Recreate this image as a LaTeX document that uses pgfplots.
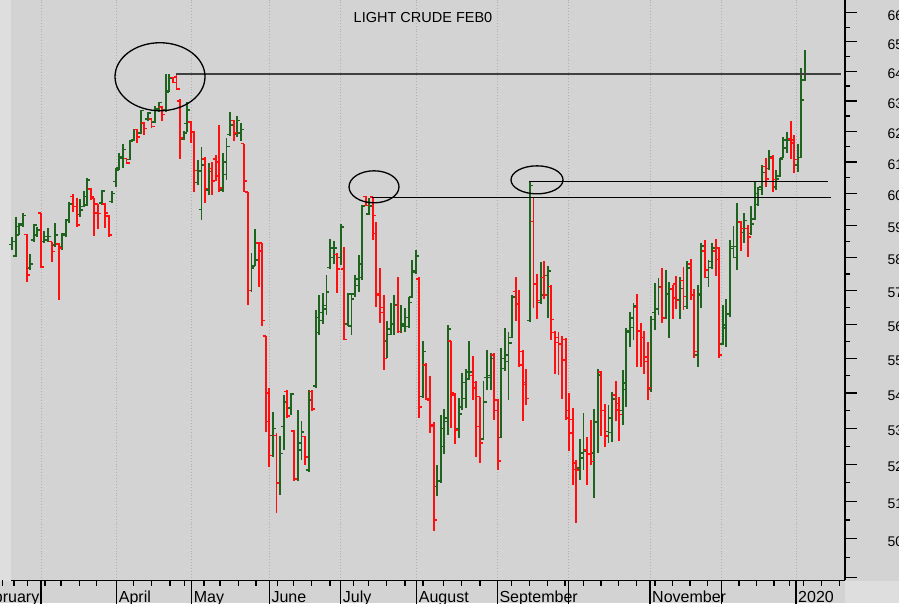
\documentclass[border=0pt]{standalone}
\usepackage{pgfplots}
\pgfplotsset{compat=1.18}
\usepackage{pgfplotstable}
\usepackage{fontspec}
\setmainfont{Liberation Sans}
\definecolor{bg}{HTML}{D3D3D3}
\definecolor{bglight}{HTML}{DEDEDE}
\definecolor{barg}{RGB}{30,100,30}
\definecolor{barr}{RGB}{255,15,15}
\definecolor{gridc}{HTML}{B0B0B0}
\pgfdeclareplotmark{ohlco}{\pgfpathmoveto{\pgfpoint{-3pt}{0pt}}\pgfpathlineto{\pgfpoint{0pt}{0pt}}\pgfusepathqstroke}
\pgfdeclareplotmark{ohlcc}{\pgfpathmoveto{\pgfpoint{0pt}{0pt}}\pgfpathlineto{\pgfpoint{3pt}{0pt}}\pgfusepathqstroke}

\pgfplotstableread{
k o h l c
1 58.41 58.65 58.24 58.49
2 58.05 59.27 58.03 58.96
3 58.70 59.06 58.70 59.00
4 59.05 59.38 58.96 59.30
6 57.68 58.10 57.63 57.81
7 58.55 59.04 58.49 59.00
8 58.70 58.96 58.65 58.86
10 58.49 58.81 58.44 58.65
11 58.55 58.91 58.47 58.65
13 58.39 59.06 58.34 58.70
15 58.34 58.75 58.24 58.70
16 58.75 59.19 58.65 59.17
17 59.17 59.72 59.06 59.67
20 59.33 59.82 59.27 59.48
21 59.59 60.08 59.57 59.90
22 59.64 60.49 59.59 60.43
26 59.69 60.11 59.64 60.08
29 59.74 60.08 59.69 60.00
30 60.38 60.81 60.22 60.75
31 60.81 61.29 60.75 61.18
32 61.13 61.59 60.81 61.40
34 61.08 61.72 61.08 61.67
35 61.72 62.08 61.67 62.05
37 61.94 62.70 61.91 62.68
39 62.40 62.65 62.35 62.60
41 62.30 62.82 62.27 62.75
42 62.70 62.98 62.65 62.95
44 62.70 63.90 62.65 63.30
45 63.35 63.90 63.30 63.75
49 61.75 62.00 61.73 61.95
50 62.25 62.95 61.96 62.70
53 60.35 61.08 60.28 60.72
54 59.50 61.50 59.17 60.90
56 60.10 60.97 59.96 60.70
60 60.10 61.29 60.03 61.00
61 60.60 61.78 60.43 61.50
62 61.90 62.65 61.85 62.20
64 61.90 62.51 61.81 62.35
65 61.95 62.27 61.67 62.05
68 57.00 58.13 56.95 57.68
69 57.75 58.87 57.73 57.93
74 52.80 53.45 52.20 53.00
76 51.50 52.78 51.18 52.30
77 53.05 53.95 52.40 53.75
79 53.57 54.00 53.39 53.98
81 51.60 53.53 51.55 52.60
82 52.40 53.20 52.13 52.90
84 51.85 54.10 51.80 53.80
86 54.20 56.43 54.14 56.20
87 55.75 56.87 55.68 56.35
88 56.10 56.93 56.01 56.55
89 56.45 57.47 56.28 56.95
90 57.70 58.58 57.65 58.30
91 58.00 58.50 57.80 58.30
93 58.00 59.04 57.77 58.95
95 56.00 56.92 55.93 56.90
96 55.95 56.92 55.68 56.75
97 56.90 57.47 56.82 57.35
98 57.15 58.08 56.97 57.80
99 57.40 59.64 57.32 59.60
101 59.35 59.85 59.33 59.60
106 55.50 56.08 55.00 55.85
107 55.70 56.64 55.68 56.00
108 56.00 56.87 55.67 56.57
110 55.78 56.57 55.73 56.00
111 55.95 56.47 55.77 56.20
112 55.93 56.82 55.88 56.64
113 56.80 57.94 56.77 57.60
114 57.55 58.22 57.51 58.05
116 53.90 55.49 53.86 55.20
120 51.40 51.99 51.13 51.55
121 51.55 53.39 51.50 53.00
122 52.50 53.55 52.30 53.20
123 53.30 55.98 52.82 55.85
126 53.00 53.86 52.73 53.40
127 53.60 54.57 53.53 54.30
128 53.85 54.69 53.57 54.60
129 54.40 55.49 54.38 54.60
133 52.70 54.33 52.68 53.75
134 54.45 55.25 54.10 54.50
135 54.45 55.15 54.10 55.00
138 52.75 55.30 52.73 55.00
139 54.70 55.88 54.62 55.10
140 54.90 55.78 53.81 55.44
141 55.60 56.87 55.59 56.80
146 56.10 60.38 56.05 60.25
149 56.65 57.86 56.60 56.87
151 57.45 57.73 56.18 57.60
160 51.90 52.70 51.58 52.31
161 52.18 53.43 51.85 52.36
164 52.31 53.55 51.09 53.17
165 53.20 54.69 52.31 54.52
168 52.91 53.67 52.60 53.29
169 52.89 54.02 52.63 53.83
172 53.50 54.65 53.10 54.29
173 54.10 55.88 53.60 55.80
174 55.75 56.37 55.32 56.18
175 55.90 56.64 55.52 56.54
180 54.10 56.25 54.02 56.13
181 56.35 57.24 55.83 56.45
182 56.45 57.37 56.28 57.12
184 56.20 57.61 56.15 56.92
185 56.90 57.27 55.59 57.07
188 56.72 57.42 56.15 57.07
190 56.53 57.91 56.44 57.68
193 55.10 57.17 54.74 56.87
194 56.90 58.46 56.47 58.36
196 57.40 57.93 57.10 57.88
197 57.70 58.46 57.65 58.29
200 55.42 56.57 55.39 55.88
201 55.98 56.74 55.32 56.30
202 56.30 58.53 56.21 58.34
203 58.28 58.98 57.98 58.35
204 58.00 59.71 57.62 59.08
206 58.77 59.38 58.44 59.15
208 58.75 59.59 58.70 59.04
209 59.20 60.38 59.17 59.99
210 59.65 60.22 59.61 60.12
211 60.20 60.91 59.96 60.67
213 60.80 61.38 60.76 61.18
215 60.20 60.76 60.12 60.46
216 60.55 61.13 60.52 61.10
217 61.15 61.81 61.13 61.72
218 61.45 61.96 61.29 61.72
221 60.90 61.59 60.67 61.15
222 61.15 64.10 61.13 63.03
223 63.70 64.73 63.65 63.88
}\greenbars

\pgfplotstableread{
k o h l c
5 58.72 58.72 57.27 57.47
9 59.38 59.38 57.67 57.72
12 58.49 58.49 57.86 58.19
14 58.42 58.44 56.72 58.30
18 59.90 59.98 59.43 59.59
19 59.59 59.85 58.94 59.01
23 60.14 60.17 59.80 59.88
24 59.85 59.85 58.68 59.38
25 59.67 59.67 58.88 59.36
27 59.67 59.69 58.91 59.38
28 59.29 59.33 58.65 58.70
33 61.11 61.11 60.95 60.97
36 62.05 62.08 61.62 61.81
38 62.28 62.30 61.89 62.10
40 62.40 62.42 62.10 62.15
43 62.80 62.82 62.32 62.55
46 63.78 63.80 63.60 63.62
47 63.80 63.89 63.36 63.40
48 63.00 63.06 61.10 61.78
51 62.30 62.32 61.62 62.00
52 61.98 62.00 60.05 60.73
55 61.10 61.15 59.70 60.15
57 60.80 60.99 59.96 60.40
58 61.10 61.24 60.38 60.55
59 61.00 62.20 60.05 60.17
63 62.35 62.38 61.67 61.95
66 61.60 61.60 60.05 60.40
67 60.05 60.05 56.57 57.00
70 58.45 58.46 57.12 58.20
71 58.45 58.46 55.93 56.10
72 55.65 55.65 52.90 53.20
73 54.00 54.15 51.94 52.25
75 52.80 52.87 50.68 51.50
78 54.05 54.10 53.30 53.35
80 52.93 52.95 51.55 51.60
83 52.77 52.80 51.99 52.20
85 54.05 54.10 53.48 53.55
92 58.10 58.13 56.92 57.65
94 57.65 58.32 55.54 55.55
100 59.90 59.93 59.59 59.62
102 59.88 59.90 58.53 59.30
103 58.75 59.09 56.50 56.87
104 56.90 57.68 56.03 56.35
105 56.50 56.87 54.66 55.00
109 56.55 57.42 55.73 55.78
115 57.35 57.42 53.29 53.60
117 54.80 54.87 53.80 53.85
118 53.80 54.48 52.87 53.05
119 53.10 53.18 50.21 50.50
124 55.50 55.51 53.00 54.00
125 53.95 54.00 52.58 52.95
130 54.50 55.07 53.81 54.15
131 54.30 54.33 52.22 53.05
132 53.90 53.90 52.04 52.60
136 55.10 55.15 53.25 53.50
137 53.80 53.83 51.85 52.10
142 56.97 57.40 56.08 56.60
143 56.60 57.02 54.75 54.80
144 55.20 55.25 53.20 54.25
145 54.30 54.69 53.67 53.85
147 59.12 59.89 56.47 57.20
148 57.20 57.51 56.14 56.70
150 57.40 57.90 56.74 56.87
152 57.12 57.17 55.52 56.13
153 55.75 55.81 54.54 55.46
154 55.60 55.76 54.51 55.41
155 55.40 55.66 53.83 54.95
156 55.55 55.59 53.23 53.30
157 53.50 54.00 52.36 52.87
158 53.25 53.58 51.44 51.87
159 52.05 52.13 50.41 51.85
162 52.40 52.76 51.44 52.27
163 52.30 53.24 51.99 52.08
166 54.60 54.64 52.79 53.51
167 53.50 53.70 52.48 52.79
170 53.95 54.33 53.20 53.52
171 53.70 53.89 52.66 53.39
176 56.50 56.90 54.74 55.78
177 55.80 56.03 54.74 55.60
178 55.60 55.81 54.54 54.90
179 55.03 55.46 53.80 54.14
183 57.10 57.68 56.03 56.18
186 57.05 57.17 56.15 56.77
187 57.20 57.44 56.46 56.70
189 57.30 57.71 56.43 56.82
191 57.80 57.95 56.72 56.87
192 56.87 57.04 55.00 55.20
195 58.20 58.53 57.37 57.62
198 58.20 58.57 57.44 57.95
199 58.30 58.34 55.00 55.10
205 59.10 59.12 58.19 58.90
207 58.90 59.01 58.03 58.63
212 60.86 61.13 60.22 60.46
214 61.13 61.24 60.03 60.44
219 61.75 62.35 61.10 61.62
220 61.72 61.89 60.65 61.08
}\redbars

\begin{document}
\begin{tikzpicture}
\useasboundingbox (0,0) rectangle (899pt,603pt);
\fill[bg] (0,0) rectangle (899pt,603pt);
\fill[bglight] (0,22.5pt) rectangle (11pt,603pt);
\fill[bglight] (845pt,0) rectangle (899pt,22.5pt);
\begin{axis}[
  at={(11pt,22.5pt)}, anchor=south west, scale only axis,
  width=834pt, height=580.5pt,
  xmin=11, xmax=845, ymode=log, ymin=48.915, ymax=66.455,
  axis x line*=bottom, axis y line*=right,
  axis line style={line width=1.2pt, black},
  xtick=\empty,
  ytick={49,50,51,52,53,54,55,56,57,58,59,60,61,62,63,64,65,66},
  minor ytick={49.5,50.5,51.5,52.5,53.5,54.5,55.5,56.5,57.5,58.5,59.5,60.5,61.5,62.5,63.5,64.5,65.5},
  yticklabels={},
  tick align=outside, major tick length=11.5pt, minor tick length=5pt,
  every tick/.style={line width=1.2pt, black},
  clip mode=individual,
]
\pgfplotsinvokeforeach{41,116.7,191.7,269.3,340.7,416.7,497.3,568.3,650,721.7,796}{
  \draw[gridc, dotted, line width=0.9pt] (axis cs:#1,48.915) -- (axis cs:#1,66.455);
  \draw[line width=1.2pt] (axis cs:#1,48.915) -- ([yshift=-26pt]axis cs:#1,48.915);
}
\pgfplotsinvokeforeach{2.7,14,27.3,45,61,79.3,96.7,133.3,151.7,170,184.3,204,220,238.3,256,277.3,293.3,311.7,330,353.3,368.3,386.7,405,423,443.3,461.7,480,511.7,529.3,547.3,565,583.3,601,618.3,636.7,655,672.7,690,707.3,739,756.7,774,789.3,803.3,821.7,839.3}{
  \draw[line width=1.2pt] (axis cs:#1,48.915) -- ([yshift=-6pt]axis cs:#1,48.915);
}
\addplot[barg, line width=1.9pt, only marks, mark=ohlcc, mark options={line width=1.5pt},
  error bars/.cd, y dir=both, y explicit, error mark=none,
  error bar style={line width=1.9pt, barg}]
  table[x expr=3.57*\thisrow{k}+8.73, y=c,
        y error plus expr=\thisrow{h}-\thisrow{c},
        y error minus expr=\thisrow{c}-\thisrow{l}] {\greenbars};
\addplot[barg, only marks, mark=ohlco, mark options={line width=1.5pt}]
  table[x expr=3.57*\thisrow{k}+8.73, y=o] {\greenbars};
\addplot[barr, line width=1.9pt, only marks, mark=ohlcc, mark options={line width=1.5pt},
  error bars/.cd, y dir=both, y explicit, error mark=none,
  error bar style={line width=1.9pt, barr}]
  table[x expr=3.57*\thisrow{k}+8.73, y=c,
        y error plus expr=\thisrow{h}-\thisrow{c},
        y error minus expr=\thisrow{c}-\thisrow{l}] {\redbars};
\addplot[barr, only marks, mark=ohlco, mark options={line width=1.5pt}]
  table[x expr=3.57*\thisrow{k}+8.73, y=o] {\redbars};
% annotations
\draw[line width=2pt, black!75] (axis cs:175.5,63.89) -- (axis cs:841,63.89);
\draw[line width=1.3pt, black] (axis cs:372,59.88) -- (axis cs:831,59.88);
\draw[line width=1.3pt, black] (axis cs:529,60.38) -- (axis cs:828,60.38);
\draw[line width=1.3pt, black] (axis cs:160,63.81) ellipse [x radius=45pt, y radius=34pt];
\draw[line width=1.3pt, black] (axis cs:374,60.21) ellipse [x radius=25pt, y radius=16pt];
\draw[line width=1.3pt, black] (axis cs:537,60.43) ellipse [x radius=26pt, y radius=14pt];
% y labels
\pgfplotsinvokeforeach{50,51,52,53,54,55,56,57,58,59,60,61,62,63,64,65,66}{
  \node[anchor=west, inner sep=0pt, font=\fontsize{14}{16}\selectfont, xshift=42.5pt, yshift=-2.5pt] at (axis cs:845,#1) {#1.00};
}
% month labels
\node[anchor=base east, inner sep=0pt, font=\fontsize{16}{18}\selectfont, xshift=-1.5pt, yshift=-22pt] at (axis cs:41,48.915) {February};
\node[anchor=base west, inner sep=0pt, font=\fontsize{16}{18}\selectfont, xshift=2pt, yshift=-22pt] at (axis cs:116.7,48.915) {April};
\node[anchor=base west, inner sep=0pt, font=\fontsize{16}{18}\selectfont, xshift=2pt, yshift=-22pt] at (axis cs:191.7,48.915) {May};
\node[anchor=base west, inner sep=0pt, font=\fontsize{16}{18}\selectfont, xshift=2pt, yshift=-22pt] at (axis cs:269.3,48.915) {June};
\node[anchor=base west, inner sep=0pt, font=\fontsize{16}{18}\selectfont, xshift=2pt, yshift=-22pt] at (axis cs:340.7,48.915) {July};
\node[anchor=base west, inner sep=0pt, font=\fontsize{16}{18}\selectfont, xshift=2pt, yshift=-22pt] at (axis cs:416.7,48.915) {August};
\node[anchor=base west, inner sep=0pt, font=\fontsize{16}{18}\selectfont, xshift=2pt, yshift=-22pt] at (axis cs:497.3,48.915) {September};
\node[anchor=base west, inner sep=0pt, font=\fontsize{16}{18}\selectfont, xshift=2pt, yshift=-22pt] at (axis cs:650,48.915) {November};
\node[anchor=base west, inner sep=0pt, font=\fontsize{16}{18}\selectfont, xshift=2pt, yshift=-22pt] at (axis cs:796,48.915) {2020};
\end{axis}
\node[font=\fontsize{14.5}{17}\selectfont] at (423pt,585pt) {LIGHT CRUDE FEB0};
\end{tikzpicture}
\end{document}
